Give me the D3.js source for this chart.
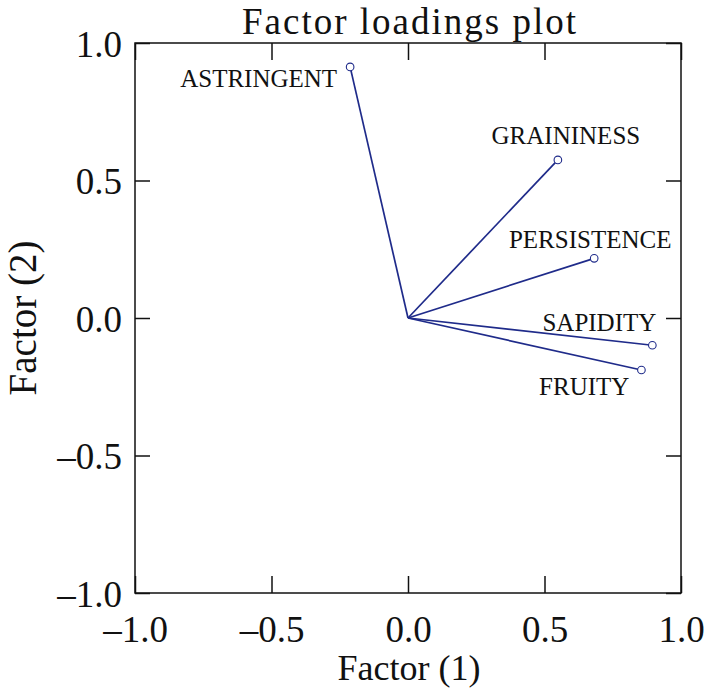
<!DOCTYPE html>
<html><head><meta charset="utf-8">
<script src="https://cdn.jsdelivr.net/npm/d3@7"></script>
<style>
html,body{margin:0;padding:0;background:#fff;}
text{font-family:"Liberation Serif","Times New Roman",serif;fill:#111;}
</style></head>
<body><svg id="chart" width="709" height="699"></svg>
<script>
// Data
const variables = ["ASTRINGENT","GRAININESS","PERSISTENCE","SAPIDITY","FRUITY"];
const factor1 = [-0.212, 0.549, 0.682, 0.895, 0.855];
const factor2 = [0.913, 0.575, 0.217, -0.099, -0.189];
const tickValues = [-1.0, -0.5, 0.0, 0.5, 1.0];
const tickLabels = ["\u20131.0", "\u20130.5", "0.0", "0.5", "1.0"];

// Label placement (styling offsets in px relative to each point)
const labelLayout = [
  {dx: -13, dy: 20, anchor: "end"},
  {dx: 8, dy: -16, anchor: "middle"},
  {dx: -4, dy: -10, anchor: "middle"},
  {dx: 4, dy: -14, anchor: "end"},
  {dx: -12, dy: 25, anchor: "end"}
];

const svg = d3.select("#chart");
const L = 135, R = 681, T = 43, B = 593;
const x = d3.scaleLinear().domain([-1, 1]).range([L, R]);
const y = d3.scaleLinear().domain([-1, 1]).range([B, T]);
const blue = "#1f2b8a";

// Axes (ticks pointing inward)
const fmt = (d) => tickLabels[tickValues.indexOf(d)];
const xTickLen = 17, yTickLen = 15;
const gBottom = svg.append("g").attr("transform", `translate(0,${B})`)
  .call(d3.axisBottom(x).tickValues(tickValues).tickSize(-xTickLen).tickSizeOuter(0).tickFormat(fmt));
const gTop = svg.append("g").attr("transform", `translate(0,${T})`)
  .call(d3.axisTop(x).tickValues(tickValues).tickSize(-xTickLen).tickSizeOuter(0).tickFormat(""));
const gLeft = svg.append("g").attr("transform", `translate(${L},0)`)
  .call(d3.axisLeft(y).tickValues(tickValues).tickSize(-yTickLen).tickSizeOuter(0).tickFormat(fmt));
const gRight = svg.append("g").attr("transform", `translate(${R},0)`)
  .call(d3.axisRight(y).tickValues(tickValues).tickSize(-yTickLen).tickSizeOuter(0).tickFormat(""));

[gBottom, gTop, gLeft, gRight].forEach(g => {
  g.select(".domain").remove();
  g.selectAll(".tick line").attr("stroke", "#111").attr("stroke-width", 1.5);
});
gBottom.selectAll(".tick text").attr("font-size", 37).attr("font-family", "Liberation Serif")
  .attr("fill", "#111").attr("y", 0).attr("dy", 48.5);
gLeft.selectAll(".tick text").attr("font-size", 37).attr("font-family", "Liberation Serif")
  .attr("fill", "#111").attr("x", -13).attr("dy", 13);

// Frame
svg.append("rect").attr("x", L).attr("y", T).attr("width", R - L).attr("height", B - T)
  .attr("fill", "none").attr("stroke", "#111").attr("stroke-width", 1.5);

// Loading vectors
const pts = variables.map((v, i) => ({name: v, f1: factor1[i], f2: factor2[i], lay: labelLayout[i]}));
svg.append("g").selectAll("line").data(pts).join("line")
  .attr("x1", x(0)).attr("y1", y(0))
  .attr("x2", d => x(d.f1)).attr("y2", d => y(d.f2))
  .attr("stroke", blue).attr("stroke-width", 1.7);
svg.append("g").selectAll("circle").data(pts).join("circle")
  .attr("cx", d => x(d.f1)).attr("cy", d => y(d.f2)).attr("r", 3.8)
  .attr("fill", "#fff").attr("stroke", blue).attr("stroke-width", 1.1);
svg.append("g").selectAll("text").data(pts).join("text")
  .attr("x", d => x(d.f1) + d.lay.dx).attr("y", d => y(d.f2) + d.lay.dy)
  .attr("text-anchor", d => d.lay.anchor).attr("font-size", 25)
  .text(d => d.name);

// Titles
svg.append("text").attr("x", 410).attr("y", 34).attr("text-anchor", "middle")
  .attr("font-size", 37).attr("letter-spacing", 2).text("Factor loadings plot");
svg.append("text").attr("x", 409).attr("y", 680).attr("text-anchor", "middle")
  .attr("font-size", 36).text("Factor (1)");
svg.append("text").attr("transform", `translate(36,${y(0)}) rotate(-90)`)
  .attr("text-anchor", "middle").attr("font-size", 39).text("Factor (2)");
</script></body></html>
